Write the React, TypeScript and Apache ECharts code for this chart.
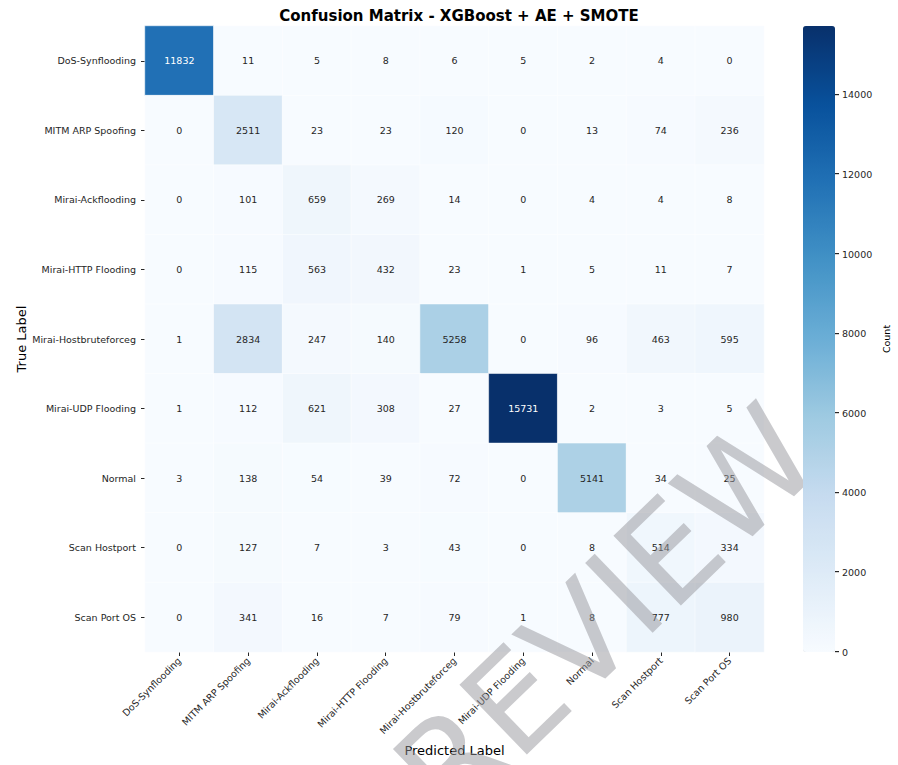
import React, { useEffect, useRef } from "react";
import * as echarts from "echarts";

const classLabels = [
  "DoS-Synflooding",
  "MITM ARP Spoofing",
  "Mirai-Ackflooding",
  "Mirai-HTTP Flooding",
  "Mirai-Hostbruteforceg",
  "Mirai-UDP Flooding",
  "Normal",
  "Scan Hostport",
  "Scan Port OS",
];

// rows = true label, columns = predicted label
const rowDosSynflooding = [11832, 11, 5, 8, 6, 5, 2, 4, 0];
const rowMitmArpSpoofing = [0, 2511, 23, 23, 120, 0, 13, 74, 236];
const rowMiraiAckflooding = [0, 101, 659, 269, 14, 0, 4, 4, 8];
const rowMiraiHttpFlooding = [0, 115, 563, 432, 23, 1, 5, 11, 7];
const rowMiraiHostbruteforceg = [1, 2834, 247, 140, 5258, 0, 96, 463, 595];
const rowMiraiUdpFlooding = [1, 112, 621, 308, 27, 15731, 2, 3, 5];
const rowNormal = [3, 138, 54, 39, 72, 0, 5141, 34, 25];
const rowScanHostport = [0, 127, 7, 3, 43, 0, 8, 514, 334];
const rowScanPortOS = [0, 341, 16, 7, 79, 1, 8, 777, 980];

const matrixRows = [
  rowDosSynflooding,
  rowMitmArpSpoofing,
  rowMiraiAckflooding,
  rowMiraiHttpFlooding,
  rowMiraiHostbruteforceg,
  rowMiraiUdpFlooding,
  rowNormal,
  rowScanHostport,
  rowScanPortOS,
];

const colorbarTicks = [0, 2000, 4000, 6000, 8000, 10000, 12000, 14000];

const titleText = "Confusion Matrix - XGBoost + AE + SMOTE";
const xAxisTitle = "Predicted Label";
const yAxisTitle = "True Label";
const colorbarTitle = "Count";
const watermarkText = "PREVIEW";

const blues = [
  "#f7fbff",
  "#deebf7",
  "#c6dbef",
  "#9ecae1",
  "#6baed6",
  "#4292c6",
  "#2171b5",
  "#08519c",
  "#08306b",
];

const FONT = "DejaVu Sans";
const TEXT_DARK = "#262626";

export default function App() {
  const ref = useRef<HTMLDivElement>(null);

  useEffect(() => {
    document.body.style.margin = "0";
    if (!ref.current) return;
    const chart = echarts.init(ref.current, null, { renderer: "svg" });

    const allValues = matrixRows.flat();
    const vmax = Math.max(...allValues);

    const data: any[] = [];
    matrixRows.forEach((row, r) => {
      row.forEach((v, c) => {
        data.push({
          value: [c, r, v],
          label: { color: v / vmax > 0.45 ? "#ffffff" : TEXT_DARK },
        });
      });
    });

    const gridLeft = 145;
    const gridTop = 26;
    const gridW = 619;
    const gridH = 626;
    const barLeft = 803;
    const barW = 32;

    // colorbar tick marks on the colorbar's linear value scale (0 .. vmax)
    const tickGraphics = colorbarTicks.map((v, i) => {
      const py = gridTop + gridH * (1 - v / vmax);
      return {
        id: "cbtick" + i,
        type: "rect",
        z: 10,
        shape: { x: barLeft + barW, y: Math.round(py) - 1, width: 4, height: 1.2 },
        style: { fill: TEXT_DARK },
      };
    });

    const graphics: any[] = [
      {
        id: "ytitle",
        type: "text",
        x: 21,
        y: gridTop + gridH / 2,
        rotation: Math.PI / 2,
        style: {
          text: yAxisTitle,
          fontFamily: FONT,
          fontSize: 13,
          fill: "#000000",
          textAlign: "center",
          textVerticalAlign: "middle",
        },
      },
      {
        id: "xtitle",
        type: "text",
        x: gridLeft + gridW / 2,
        y: 750,
        style: {
          text: xAxisTitle,
          fontFamily: FONT,
          fontSize: 13,
          fill: "#000000",
          textAlign: "center",
          textVerticalAlign: "middle",
        },
      },
      {
        id: "cbtitle",
        type: "text",
        x: 886,
        y: gridTop + gridH / 2,
        rotation: Math.PI / 2,
        style: {
          text: colorbarTitle,
          fontFamily: FONT,
          fontSize: 9.5,
          fill: "#000000",
          textAlign: "center",
          textVerticalAlign: "middle",
        },
      },
      {
        id: "watermark",
        type: "text",
        x: 578,
        y: 641,
        z: 3,
        rotation: (44 * Math.PI) / 180,
        style: {
          text: watermarkText,
          fontFamily: FONT,
          fontSize: 133,
          fill: "rgba(150,150,155,0.5)",
          textAlign: "center",
          textVerticalAlign: "middle",
        },
      },
      ...tickGraphics,
    ];

    chart.setOption({
      animation: false,
      backgroundColor: "#ffffff",
      textStyle: { fontFamily: FONT },
      title: {
        text: titleText,
        left: 454,
        top: 3,
        textAlign: "center",
        textStyle: {
          fontFamily: FONT,
          fontSize: 15,
          fontWeight: "bold",
          color: "#000000",
        },
      },
      grid: [
        { left: gridLeft, top: gridTop, width: gridW, height: gridH },
        { left: barLeft, top: gridTop, width: barW, height: gridH },
      ],
      xAxis: [
        {
          type: "category",
          gridIndex: 0,
          data: classLabels,
          position: "bottom",
          axisLine: { show: false },
          axisTick: {
            show: true,
            alignWithLabel: true,
            length: 4,
            lineStyle: { color: TEXT_DARK, width: 1 },
          },
          axisLabel: {
            rotate: 45,
            interval: 0,
            margin: 7,
            fontFamily: FONT,
            fontSize: 9.5,
            color: TEXT_DARK,
          },
          splitLine: { show: false },
        },
        {
          type: "category",
          gridIndex: 1,
          show: false,
          data: [""],
          axisLine: { show: false, onZero: false },
          axisTick: { show: false },
          axisLabel: { show: false },
          splitLine: { show: false },
        },
      ],
      yAxis: [
        {
          type: "category",
          gridIndex: 0,
          data: classLabels,
          inverse: true,
          axisLine: { show: false },
          axisTick: {
            show: true,
            alignWithLabel: true,
            length: 4,
            lineStyle: { color: TEXT_DARK, width: 1 },
          },
          axisLabel: {
            interval: 0,
            margin: 9,
            fontFamily: FONT,
            fontSize: 9.5,
            color: TEXT_DARK,
          },
          splitLine: { show: false },
        },
        {
          type: "value",
          gridIndex: 1,
          position: "right",
          min: 0,
          max: vmax,
          axisLine: { show: false, onZero: false },
          splitLine: { show: false },
          axisTick: { show: false },
          axisLabel: {
            show: true,
            margin: 7,
            customValues: colorbarTicks,
            formatter: (v: number) => String(v),
            fontFamily: FONT,
            fontSize: 9.5,
            color: TEXT_DARK,
          },
        },
      ],
      visualMap: {
        type: "continuous",
        min: 0,
        max: vmax,
        calculable: false,
        orient: "vertical",
        left: barLeft,
        top: gridTop,
        itemWidth: barW,
        itemHeight: gridH,
        padding: 0,
        indicatorSize: 0,
        handleSize: 0,
        hoverLink: false,
        seriesIndex: 0,
        z: 4,
        inRange: { color: blues },
      },
      series: [
        {
          type: "heatmap",
          xAxisIndex: 0,
          yAxisIndex: 0,
          data,
          label: {
            show: true,
            fontFamily: FONT,
            fontSize: 9.5,
          },
          itemStyle: {
            borderColor: "#ffffff",
            borderWidth: 0.5,
          },
          emphasis: { disabled: true },
        },
      ],
      graphic: graphics,
    });

    return () => {
      chart.dispose();
    };
  }, []);

  return <div ref={ref} style={{ width: 898, height: 765 }} />;
}
